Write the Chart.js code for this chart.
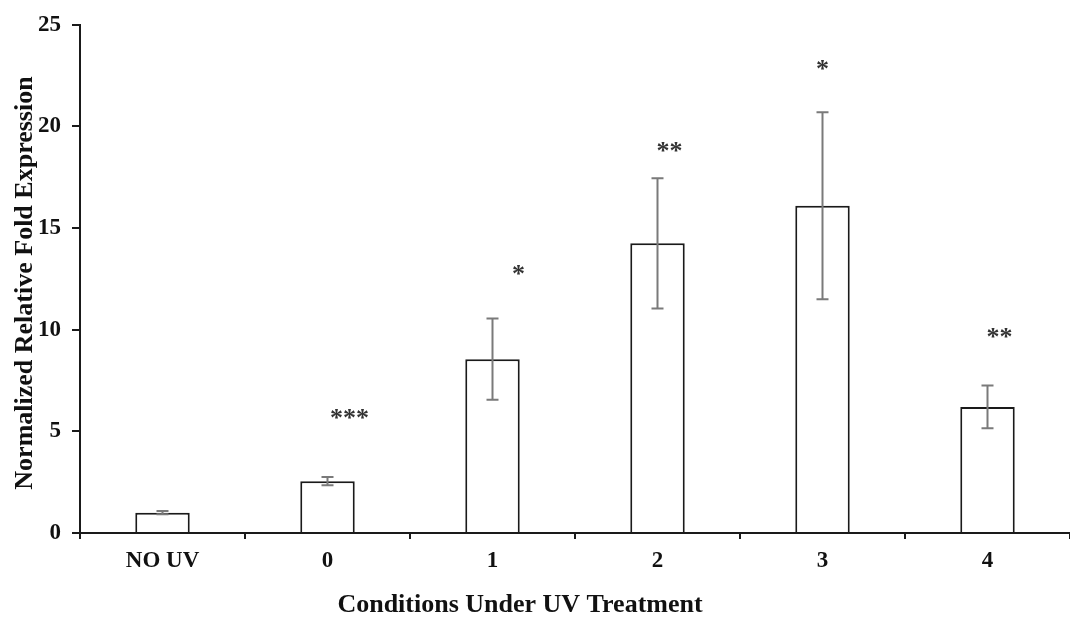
<!DOCTYPE html>
<html>
<head>
<meta charset="utf-8">
<script src="https://cdn.jsdelivr.net/npm/chart.js@4.4.1/dist/chart.umd.min.js"></script>
<style>
  html, body { margin: 0; padding: 0; background: #fff; }
  #wrap { width: 1070px; height: 617px; }
</style>
</head>
<body>
<div id="wrap"><canvas id="canvas"></canvas></div>
<script>
// values
var conditions = ['NO UV', '0', '1', '2', '3', '4'];
var foldMean = [1.0, 2.55, 8.55, 14.25, 16.1, 6.2];
var foldErr = [0.08, 0.2, 2.0, 3.2, 4.6, 1.05];
var sigMarks = ['', '***', '*', '**', '*', '**'];
var sigLevel = [null, 5.85, 12.95, 19.0, 23.0, 9.85];
var yMin = 0, yMax = 25, yStep = 5;

var serif = "'Liberation Serif', 'Times New Roman', serif";

// error bars + significance stars + axis titles
var extras = {
    id: 'extras',
    afterDatasetsDraw: function (chart) {
        var ctx = chart.ctx;
        var y = chart.scales.y;
        var meta = chart.getDatasetMeta(0);
        var starShift = [0, 22, 26, 12, 0, 12];

        ctx.save();
        ctx.strokeStyle = '#7a7a7a';
        ctx.lineWidth = 2;
        for (var i = 0; i < foldMean.length; i++) {
            var x = meta.data[i].x;
            var top = y.getPixelForValue(foldMean[i] + foldErr[i]);
            var bot = y.getPixelForValue(foldMean[i] - foldErr[i]);
            ctx.beginPath();
            ctx.moveTo(x, top); ctx.lineTo(x, bot);
            ctx.moveTo(x - 6, top); ctx.lineTo(x + 6, top);
            ctx.moveTo(x - 6, bot); ctx.lineTo(x + 6, bot);
            ctx.stroke();
        }

        ctx.fillStyle = '#333';
        ctx.font = 'bold 26px ' + serif;
        ctx.textAlign = 'center';
        ctx.textBaseline = 'alphabetic';
        for (var j = 0; j < sigMarks.length; j++) {
            if (!sigMarks[j]) continue;
            var sx = meta.data[j].x + starShift[j];
            var sy = y.getPixelForValue(sigLevel[j]);
            ctx.fillText(sigMarks[j], sx, sy + 12);
        }

        ctx.fillStyle = '#111';
        ctx.font = 'bold 26px ' + serif;
        ctx.textBaseline = 'middle';
        ctx.fillText('Conditions Under UV Treatment', 520, 605);

        ctx.translate(25, 283);
        ctx.rotate(-Math.PI / 2);
        ctx.fillText('Normalized Relative Fold Expression', 0, 0);
        ctx.restore();
    }
};

const CHART = document.getElementById('canvas');
var barChart = new Chart(CHART, {
    type: 'bar',
    data: {
        labels: conditions,
        datasets: [{
            data: foldMean,
            backgroundColor: '#ffffff',
            borderColor: '#1a1a1a',
            borderWidth: 2,
            borderSkipped: 'start',
            categoryPercentage: 1.0,
            barPercentage: 0.33
        }]
    },
    options: {
        responsive: true,
        maintainAspectRatio: false,
        animation: false,
        layout: { padding: { top: 18, right: 0, left: 0, bottom: 0 } },
        plugins: {
            legend: { display: false },
            tooltip: { enabled: false }
        },
        scales: {
            x: {
                grid: {
                    display: true,
                    drawOnChartArea: false,
                    drawTicks: true,
                    tickLength: 6,
                    color: '#1a1a1a',
                    lineWidth: 2
                },
                border: { display: true, color: '#1a1a1a', width: 2 },
                ticks: {
                    color: '#111',
                    padding: 8,
                    font: { family: serif, size: 23, weight: 'bold' }
                },
                afterFit: function (scale) { scale.height = 84; }
            },
            y: {
                min: yMin,
                max: yMax,
                grid: {
                    display: true,
                    drawOnChartArea: false,
                    drawTicks: true,
                    tickLength: 8,
                    color: '#1a1a1a',
                    lineWidth: 2
                },
                border: { display: true, color: '#1a1a1a', width: 2 },
                ticks: {
                    stepSize: yStep,
                    color: '#111',
                    padding: 11,
                    font: { family: serif, size: 23, weight: 'bold' }
                },
                afterFit: function (scale) { scale.width = 80; }
            }
        }
    },
    plugins: [extras]
});
</script>
</body>
</html>
